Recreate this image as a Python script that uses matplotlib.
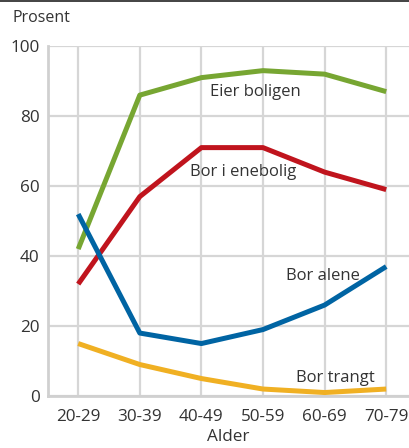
import matplotlib.pyplot as plt
from matplotlib.lines import Line2D

plt.rcParams['font.family'] = ['Open Sans', 'DejaVu Sans']

age_groups = ['20-29', '30-39', '40-49', '50-59', '60-69', '70-79']
eier_boligen = [42, 86, 91, 93, 92, 87]
bor_enebolig = [32, 57, 71, 71, 64, 59]
bor_alene = [52, 18, 15, 19, 26, 37]
bor_trangt = [15, 9, 5, 2, 1, 2]

series = [
    ('Eier boligen', eier_boligen, '#77a632', (2.87, 87)),
    ('Bor i enebolig', bor_enebolig, '#c0141d', (2.68, 64)),
    ('Bor alene', bor_alene, '#0064a3', (3.98, 34.3)),
    ('Bor trangt', bor_trangt, '#f0b023', (4.17, 5.2)),
]

fig = plt.figure(figsize=(4.09, 4.48), dpi=100)
ax = fig.add_axes([0.1174, 0.116, 0.8826, 0.781])

x = list(range(len(age_groups)))
for name, vals, color, (lx, ly) in series:
    ax.plot(x, vals, color=color, linewidth=3.6, solid_capstyle='butt', zorder=3)
    ax.text(lx, ly, name, ha='center', va='center', fontsize=12, color='#333333', zorder=4)

ax.set_xlim(-0.49, 5.37)
ax.set_ylim(0, 100)
ax.set_xticks(x)
ax.set_xticklabels(age_groups)
ax.set_yticks(range(0, 101, 20))
ax.tick_params(axis='x', length=0, labelsize=12.3, colors='#333333', pad=9)
ax.tick_params(axis='y', length=0, labelsize=12.3, colors='#333333', pad=6)
ax.grid(True, color='#d6d6d6', linewidth=1.6, zorder=0)
ax.set_axisbelow(True)
for side in ['top', 'right']:
    ax.spines[side].set_visible(False)
for side in ['left', 'bottom']:
    ax.spines[side].set_color('#d0d0d0')
    ax.spines[side].set_linewidth(2)
ax.set_xlabel('Alder', fontsize=12.3, color='#333333', labelpad=3)

fig.text(12 / 409, 1 - 18 / 448, 'Prosent', ha='left', va='center', fontsize=11.5, color='#333333')
fig.add_artist(Line2D([0, 1], [0.997, 0.997], color='#222222', linewidth=1.2))

fig.savefig('out.png', dpi=100)
